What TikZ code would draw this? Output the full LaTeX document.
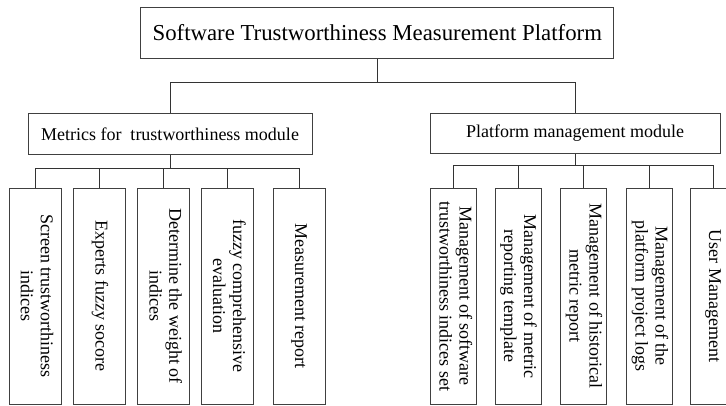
\documentclass[tikz,border=0pt]{standalone}
\usepackage{fontspec}
\setmainfont{Liberation Serif}
\usepackage{graphicx}
\tikzset{
  boxline/.style={draw=black!75, line width=0.75pt},
  titlebox/.style={boxline, inner sep=0pt, minimum width=355pt, minimum height=38.25pt, font=\fontsize{17.1}{19}\selectfont},
  modbox/.style={boxline, inner sep=0pt, minimum height=31pt, font=\fontsize{13.5}{15}\selectfont},
  leafL/.style={boxline, inner sep=0pt, minimum width=39pt, minimum height=162pt, font=\fontsize{13.5}{15}\selectfont},
  leafR/.style={boxline, inner sep=0pt, minimum width=34.5pt, minimum height=162pt, font=\fontsize{13.5}{15}\selectfont},
  conn/.style={draw=black!80, line width=0.75pt}
}
\newcommand{\vtext}[1]{\rotatebox{-90}{\begin{tabular}{@{}c@{}}#1\end{tabular}}}
\begin{document}
\begin{tikzpicture}[x=0.75pt, y=-0.75pt]
\useasboundingbox (0,0) rectangle (726,405);
% top
\node[titlebox] (title) at (377.3,32.5) {Software Trustworthiness Measurement Platform};
% modules
\node[modbox, minimum width=213pt] (left) at (170,134) {Metrics for\ \ trustworthiness module};
\node[modbox, minimum width=217.5pt, minimum height=30pt] (right) at (575,133) {Platform management module};
% left leaves
\node[leafL] (l1) at (35,296) {\vtext{Screen trustworthiness\\indices}};
\node[leafL] (l2) at (99.5,296) {\vtext{Experts fuzzy socore}};
\node[leafL] (l3) at (163.5,296) {\vtext{Determine the weight of\\indices}};
\node[leafL] (l4) at (227,296) {\vtext{fuzzy comprehensive\\evaluation}};
\node[leafL] (l5) at (299,296) {\vtext{Measurement report}};
% right leaves
\node[leafR] (r1) at (453.5,296) {\vtext{Management of software\\trustworthiness indices set}};
\node[leafR] (r2) at (518,296) {\vtext{Management of metric\\reporting template}};
\node[leafR] (r3) at (583.5,296) {\vtext{Management of historical\\metric report}};
\node[leafR] (r4) at (649.5,296) {\vtext{Management of the\\platform project logs}};
\node[leafR] (r5) at (713,296) {\vtext{User Management}};
% junctions
\coordinate (j0) at (377.3,82);
\coordinate (jl) at (170,168);
\coordinate (jr) at (575,165);
% connectors
\draw[conn] (title.south) -- (j0);
\draw[conn] (left.north) -- (left.north |- j0) -- (right.north |- j0) -- (right.north);
\draw[conn] (left.south) -- (jl);
\draw[conn] (l1.north) -- (l1.north |- jl) -- (l5.north |- jl) -- (l5.north);
\foreach \n in {l2,l3,l4} \draw[conn] (\n.north) -- (\n.north |- jl);
\draw[conn] (right.south) -- (jr);
\draw[conn] (r1.north) -- (r1.north |- jr) -- (r5.north |- jr) -- (r5.north);
\foreach \n in {r2,r3,r4} \draw[conn] (\n.north) -- (\n.north |- jr);
\end{tikzpicture}
\end{document}
